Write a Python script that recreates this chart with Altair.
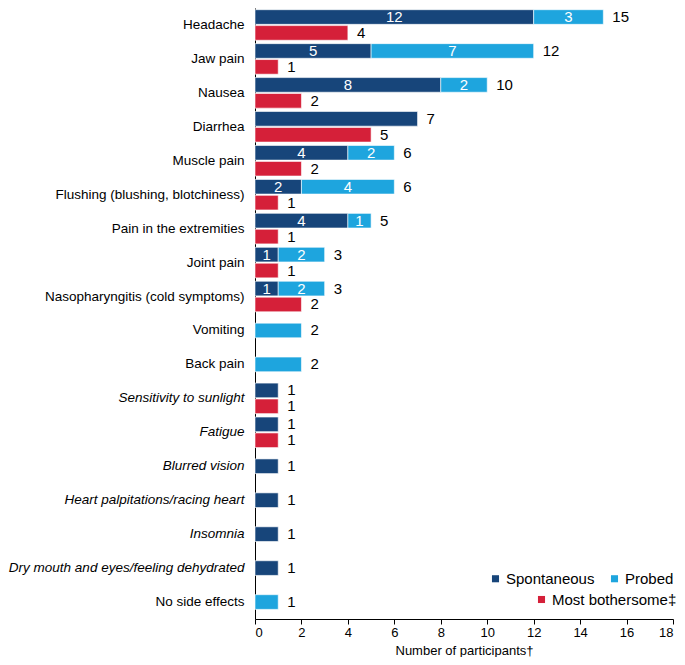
import altair as alt
import pandas as pd

categories = [
    "Headache", "Jaw pain", "Nausea", "Diarrhea", "Muscle pain",
    "Flushing (blushing, blotchiness)", "Pain in the extremities", "Joint pain",
    "Nasopharyngitis (cold symptoms)", "Vomiting", "Back pain",
    "Sensitivity to sunlight", "Fatigue", "Blurred vision",
    "Heart palpitations/racing heart", "Insomnia",
    "Dry mouth and eyes/feeling dehydrated", "No side effects",
]
spontaneous = [12, 5, 8, 7, 4, 2, 4, 1, 1, 0, 0, 1, 1, 1, 1, 1, 1, 0]
probed = [3, 7, 2, 0, 2, 4, 1, 2, 2, 2, 2, 0, 0, 0, 0, 0, 0, 1]
most_bothersome = [4, 1, 2, 5, 2, 1, 1, 1, 2, 0, 0, 1, 1, 0, 0, 0, 0, 0]
italic_categories = [
    "Sensitivity to sunlight", "Fatigue", "Blurred vision",
    "Heart palpitations/racing heart", "Insomnia",
    "Dry mouth and eyes/feeling dehydrated",
]
x_ticks = [0, 2, 4, 6, 8, 10, 12, 14, 16, 18]

sp_names = ["Spontaneous", "Probed"]
sp_colors = ["#17457a", "#1ea5de"]
mb_name = "Most bothersome\u2021"
mb_color = "#d52039"

rows = []
totals = []
for i, c in enumerate(categories):
    s, p, m = spontaneous[i], probed[i], most_bothersome[i]
    main_slot = "top" if m > 0 else "single"
    both = s > 0 and p > 0
    if s > 0:
        rows.append(dict(category=c, series=sp_names[0], value=s, slot=main_slot, ord=0, show=both))
    if p > 0:
        rows.append(dict(category=c, series=sp_names[1], value=p, slot=main_slot, ord=1, show=both))
    if m > 0:
        rows.append(dict(category=c, series=mb_name, value=m, slot="bottom", ord=2, show=False))
        totals.append(dict(category=c, total=m, slot="bottom"))
    totals.append(dict(category=c, total=s + p, slot=main_slot))

df = pd.DataFrame(rows)
tot = pd.DataFrame(totals)

FONT = "Liberation Sans"

y_enc = alt.Y(
    "category:N", sort=categories, title=None,
    scale=alt.Scale(paddingInner=0.1, paddingOuter=0.05),
    axis=alt.Axis(
        ticks=False, domainColor="black", labelColor="black",
        labelFontSize=13.5, labelPadding=11, labelLimit=400,
        labelFontStyle={
            "condition": {
                "test": "indexof(" + str(italic_categories).replace("'", '"') + ", datum.value) >= 0",
                "value": "italic",
            },
            "value": "normal",
        },
    ),
)
x_enc = alt.X(
    "value:Q", stack="zero",
    scale=alt.Scale(domain=[0, 18], nice=False),
    axis=alt.Axis(
        values=x_ticks, grid=False, domainColor="black",
        tickColor="black", tickSize=5, labelColor="black", labelFontSize=13,
        title="Number of participants\u2020", titleFontSize=13,
        titleFontWeight="normal", titleColor="black", titlePadding=5,
    ),
)
color_enc = alt.Color(
    "series:N",
    scale=alt.Scale(domain=sp_names, range=sp_colors),
    legend=alt.Legend(
        title=None, orient="none", legendX=233, legendY=563, direction="horizontal",
        symbolType="square", symbolSize=50, labelFontSize=15,
        labelColor="black", columnPadding=12, symbolStrokeWidth=0,
        labelOffset=3,
    ),
)
fill_enc = alt.Fill(
    "series:N",
    scale=alt.Scale(domain=[mb_name], range=[mb_color]),
    legend=alt.Legend(
        title=None, orient="none", legendX=279, legendY=584, direction="horizontal",
        symbolType="square", symbolSize=50, labelFontSize=15,
        labelColor="black", symbolStrokeWidth=0, labelOffset=3,
    ),
)
yoff = alt.YOffset("slot:N", scale=alt.Scale(domain=["top", "bottom"], paddingInner=0.08))

base = alt.Chart(df)

bars_top = base.transform_filter("datum.slot == 'top'").mark_bar(
    stroke="white", strokeWidth=0.6
).encode(
    y=y_enc, x=x_enc, yOffset=yoff, color=color_enc,
    order=alt.Order("ord:Q"),
)

bars_bottom = base.transform_filter("datum.slot == 'bottom'").mark_bar(
    stroke="white", strokeWidth=0.6
).encode(
    y=y_enc, x=x_enc, yOffset=yoff, fill=fill_enc,
)

bars_single = base.transform_filter("datum.slot == 'single'").mark_bar(
    stroke="white", strokeWidth=0.6, height={"band": 0.48}
).encode(
    y=y_enc, x=x_enc, color=color_enc, order=alt.Order("ord:Q"),
)

seg_labels = base.transform_filter("datum.slot == 'top'").transform_stack(
    stack="value", groupby=["category", "slot"], as_=["x0", "x1"],
    sort=[alt.SortField("ord")],
).transform_filter("datum.show").transform_calculate(
    mid="(datum.x0 + datum.x1) / 2"
).mark_text(color="white", fontSize=15, font=FONT).encode(
    y=alt.Y("category:N", sort=categories), x=alt.X("mid:Q"),
    yOffset=yoff, text="value:Q",
)

tot_pair = alt.Chart(tot).transform_filter("datum.slot != 'single'").mark_text(
    align="left", dx=9, fontSize=15, color="black", font=FONT
).encode(
    y=alt.Y("category:N", sort=categories), x=alt.X("total:Q"),
    yOffset=yoff, text="total:Q",
)

tot_single = alt.Chart(tot).transform_filter("datum.slot == 'single'").mark_text(
    align="left", dx=9, fontSize=15, color="black", font=FONT
).encode(
    y=alt.Y("category:N", sort=categories), x=alt.X("total:Q"),
    text="total:Q",
)

chart = alt.layer(
    bars_top, bars_bottom, bars_single, seg_labels, tot_pair, tot_single
).properties(
    width=418, height=611, padding={"left": 0, "top": 0, "right": 0, "bottom": 0}
).configure(font=FONT).configure_view(stroke=None)

chart.save("out.html", embed_options={"renderer": "svg", "actions": False})
